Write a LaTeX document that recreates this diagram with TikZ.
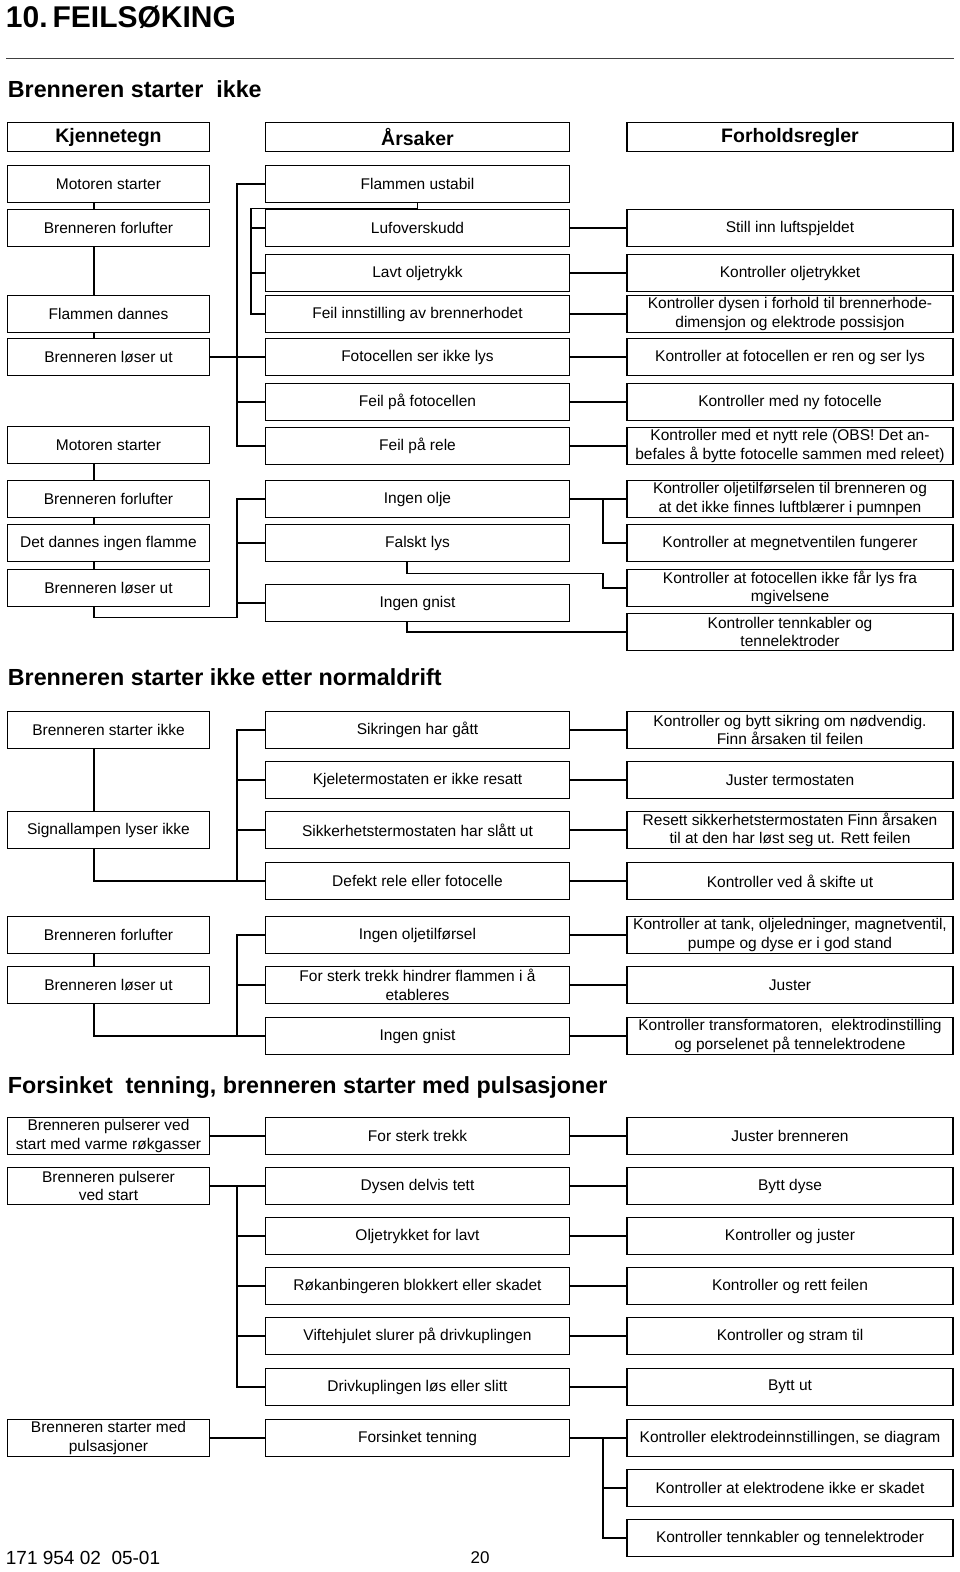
\documentclass[tikz,border=0pt]{standalone}
\usepackage{fontspec}
\setmainfont{Liberation Sans}
\usetikzlibrary{calc}
\tikzset{
    boks/.style={draw, inner sep=0pt, align=center, minimum height=37pt, font=\fontsize{15.5}{18.5}\selectfont},
    kjbox/.style={boks, minimum width=202pt},
    arbox/.style={boks, minimum width=304pt},
    fhbox/.style={boks, minimum width=326pt},
    hode/.style={font=\fontsize{19.5}{22}\selectfont\bfseries, minimum height=29pt},
    overskrift/.style={anchor=west, inner sep=0pt, font=\fontsize{23.3}{26}\selectfont\bfseries},
  }

\begin{document}
\begin{tikzpicture}[x=1pt,y=-1pt,line width=1.8pt]
				  %kolonner : kjennetegn x=108.5, aarsaker x=417.5, forholdsregler x=790
				  %buss til aarsaker x=237, grein til forholdsregler x=603
				  \useasboundingbox (0,0) rectangle (960,1572);
				  \coordinate (venstre) at (94,0);
				  \coordinate (buss) at (237,0);
				  \coordinate (delbuss) at (251,0);
				  \coordinate (midt) at (407,0);
				  \coordinate (grein) at (603,0);
				  \node[anchor=west, inner sep=0pt, font=\fontsize{30}{33}\selectfont\bfseries] (tittel) at (5,17) {10.\,FEILSØKING};
				  \draw[line width=1pt, black!75] (6,58) -- (954,58);
				  \node[overskrift] (ov1) at (7,89) {Brenneren starter\ \ ikke};
				  \node[kjbox, hode] (hkj) at (108.5,137) {Kjennetegn};
				  \node[arbox, hode] (har) at (417.5,137) {Årsaker};
				  \node[fhbox, hode] (hfr) at (790,137) {Forholdsregler};
				  % brenneren starter ikke
				  \node[kjbox] (m1) at (108.5,184) {Motoren starter};
				  \node[kjbox] (f1) at (108.5,228) {Brenneren forlufter};
				  \node[kjbox] (fd) at (108.5,314) {Flammen dannes};
				  \node[kjbox] (l1) at (108.5,357) {Brenneren løser ut};
				  \node[kjbox] (m2) at (108.5,445) {Motoren starter};
				  \node[kjbox] (f2) at (108.5,499) {Brenneren forlufter};
				  \node[kjbox] (ing) at (108.5,543) {Det dannes ingen flamme};
				  \node[kjbox] (l2) at (108.5,588) {Brenneren løser ut};
				  \node[arbox] (a1) at (417.5,184) {Flammen ustabil};
				  \node[arbox] (a2) at (417.5,228) {Lufoverskudd};
				  \node[arbox] (a3) at (417.5,273) {Lavt oljetrykk};
				  \node[arbox] (a4) at (417.5,314) {Feil innstilling av brennerhodet};
				  \node[arbox] (a5) at (417.5,357) {Fotocellen ser ikke lys};
				  \node[arbox] (a6) at (417.5,402) {Feil på fotocellen};
				  \node[arbox] (a7) at (417.5,446) {Feil på rele};
				  \node[arbox] (a8) at (417.5,499) {Ingen olje};
				  \node[arbox] (a9) at (417.5,543) {Falskt lys};
				  \node[arbox] (a10) at (417.5,603) {Ingen gnist};
				  \node[fhbox] (r2) at (790,228) {Still inn luftspjeldet};
				  \node[fhbox] (r3) at (790,273) {Kontroller oljetrykket};
				  \node[fhbox] (r4) at (790,314) {Kontroller dysen i forhold til brennerhode-\\dimensjon og elektrode possisjon};
				  \node[fhbox] (r5) at (790,357) {Kontroller at fotocellen er ren og ser lys};
				  \node[fhbox] (r6) at (790,402) {Kontroller med ny fotocelle};
				  \node[fhbox] (r7) at (790,446) {Kontroller med et nytt rele (OBS! Det an-\\befales å bytte fotocelle sammen med releet)};
				  \node[fhbox] (r8) at (790,499) {Kontroller oljetilførselen til brenneren og\\at det ikke finnes luftblærer i pumnpen};
				  \node[fhbox] (r9) at (790,543) {Kontroller at megnetventilen fungerer};
				  \node[fhbox] (r10) at (790,588) {Kontroller at fotocellen ikke får lys fra\\mgivelsene};
				  \node[fhbox] (r11) at (790,632) {Kontroller tennkabler og\\tennelektroder};
				  \draw (m1.south -| venstre) -- (f1.north -| venstre);
				  \draw (f1.south -| venstre) -- (fd.north -| venstre);
				  \draw (fd.south -| venstre) -- (l1.north -| venstre);
				  \draw (l1.east) -- (a5.west);
				  \draw (a1.west) -- (a1.west -| buss) -- (a7.west -| buss) -- (a7.west);
				  \draw (a6.west) -- (a6.west -| buss);
				  \draw (a1.south) -- ++(0,5) -| (a4.west -| delbuss) -- (a4.west);
				  \draw (a2.west) -- (a2.west -| delbuss);
				  \draw (a3.west) -- (a3.west -| delbuss);
				  \foreach \i in {2,...,8}
				    \draw (a\i.east) -- (r\i.west);
				  \draw (a8.east -| grein) |- (r9.west);
				  \draw (a9.south -| midt) -- ++(0,11) -| (r10.west -| grein) -- (r10.west);
				  \draw (a10.south -| midt) |- (r11.west);
				  \draw (m2.south -| venstre) -- (f2.north -| venstre);
				  \draw (f2.south -| venstre) -- (ing.north -| venstre);
				  \draw (ing.south -| venstre) -- (l2.north -| venstre);
				  \draw (l2.south -| venstre) -- ++(0,10) -| (a8.west -| buss) -- (a8.west);
				  \draw (a9.west) -- (a9.west -| buss);
				  \draw (a10.west) -- (a10.west -| buss);
				  % etter normaldrift
				  \node[overskrift] (ov2) at (7,677) {Brenneren starter ikke etter normaldrift};
				  \node[kjbox] (s1) at (108.5,730) {Brenneren starter ikke};
				  \node[kjbox] (s2) at (108.5,830) {Signallampen lyser ikke};
				  \node[kjbox] (s3) at (108.5,935) {Brenneren forlufter};
				  \node[kjbox] (s4) at (108.5,985) {Brenneren løser ut};
				  \node[arbox] (b1) at (417.5,730) {Sikringen har gått};
				  \node[arbox] (b2) at (417.5,780) {Kjeletermostaten er ikke resatt};
				  \node[arbox] (b3) at (417.5,830) {Sikkerhetstermostaten har slått ut};
				  \node[arbox] (b4) at (417.5,881) {Defekt rele eller fotocelle};
				  \node[arbox] (b5) at (417.5,935) {Ingen oljetilførsel};
				  \node[arbox] (b6) at (417.5,985) {For sterk trekk hindrer flammen i å\\etableres};
				  \node[arbox] (b7) at (417.5,1036) {Ingen gnist};
				  \node[fhbox] (t1) at (790,730) {Kontroller og bytt sikring om nødvendig.\\Finn årsaken til feilen};
				  \node[fhbox] (t2) at (790,780) {Juster termostaten};
				  \node[fhbox] (t3) at (790,830) {Resett sikkerhetstermostaten Finn årsaken\\til at den har løst seg ut. Rett feilen};
				  \node[fhbox] (t4) at (790,881) {Kontroller ved å skifte ut};
				  \node[fhbox] (t5) at (790,935) {Kontroller at tank, oljeledninger, magnetventil,\\pumpe og dyse er i god stand};
				  \node[fhbox] (t6) at (790,985) {Juster};
				  \node[fhbox] (t7) at (790,1036) {Kontroller transformatoren,\ \ elektrodinstilling\\og porselenet på tennelektrodene};
				  \draw (s1.south -| venstre) -- (s2.north -| venstre);
				  \draw (s2.south -| venstre) |- (b4.west);
				  \draw (b1.west) -- (b1.west -| buss) -- (b4.west -| buss);
				  \draw (b2.west) -- (b2.west -| buss);
				  \draw (b3.west) -- (b3.west -| buss);
				  \draw (s3.south -| venstre) -- (s4.north -| venstre);
				  \draw (s4.south -| venstre) |- (b7.west);
				  \draw (b5.west) -- (b5.west -| buss) -- (b7.west -| buss);
				  \draw (b6.west) -- (b6.west -| buss);
				  \foreach \i in {1,...,7}
				    \draw (b\i.east) -- (t\i.west);
				  % pulsasjoner
				  \node[overskrift] (ov3) at (7,1088) {Forsinket\ \ tenning, brenneren starter med pulsasjoner};
				  \node[kjbox] (p1) at (108.5,1136) {Brenneren pulserer ved\\start med varme røkgasser};
				  \node[kjbox] (p2) at (108.5,1186) {Brenneren pulserer\\ved start};
				  \node[kjbox] (p3) at (108.5,1438) {Brenneren starter med\\pulsasjoner};
				  \node[arbox] (c1) at (417.5,1136) {For sterk trekk};
				  \node[arbox] (c2) at (417.5,1186) {Dysen delvis tett};
				  \node[arbox] (c3) at (417.5,1236) {Oljetrykket for lavt};
				  \node[arbox] (c4) at (417.5,1286) {Røkanbingeren blokkert eller skadet};
				  \node[arbox] (c5) at (417.5,1336) {Viftehjulet slurer på drivkuplingen};
				  \node[arbox] (c6) at (417.5,1387) {Drivkuplingen løs eller slitt};
				  \node[arbox] (c7) at (417.5,1438) {Forsinket tenning};
				  \node[fhbox] (d1) at (790,1136) {Juster brenneren};
				  \node[fhbox] (d2) at (790,1186) {Bytt dyse};
				  \node[fhbox] (d3) at (790,1236) {Kontroller og juster};
				  \node[fhbox] (d4) at (790,1286) {Kontroller og rett feilen};
				  \node[fhbox] (d5) at (790,1336) {Kontroller og stram til};
				  \node[fhbox] (d6) at (790,1387) {Bytt ut};
				  \node[fhbox] (d7) at (790,1438) {Kontroller elektrodeinnstillingen, se diagram};
				  \node[fhbox] (d8) at (790,1488) {Kontroller at elektrodene ikke er skadet};
				  \node[fhbox] (d9) at (790,1538) {Kontroller tennkabler og tennelektroder};
				  \draw (p1.east) -- (c1.west);
				  \draw (p2.east) -- (c2.west);
				  \draw (c2.west -| buss) -- (c6.west -| buss) -- (c6.west);
				  \foreach \i in {3,4,5}
				    \draw (c\i.west) -- (c\i.west -| buss);
				  \draw (p3.east) -- (c7.west);
				  \foreach \i in {1,...,7}
				    \draw (c\i.east) -- (d\i.west);
				  \draw (c7.east -| grein) |- (d9.west);
				  \draw (d8.west) -- (d8.west -| grein);
				  \node[anchor=west, inner sep=0pt, font=\fontsize{19}{21}\selectfont] (dok) at (5,1558) {171 954 02\ \ 05-01};
				  \node[inner sep=0pt, font=\fontsize{17}{19}\selectfont] (side) at (480,1558) {20};
				  \end{tikzpicture}
\end{document}
